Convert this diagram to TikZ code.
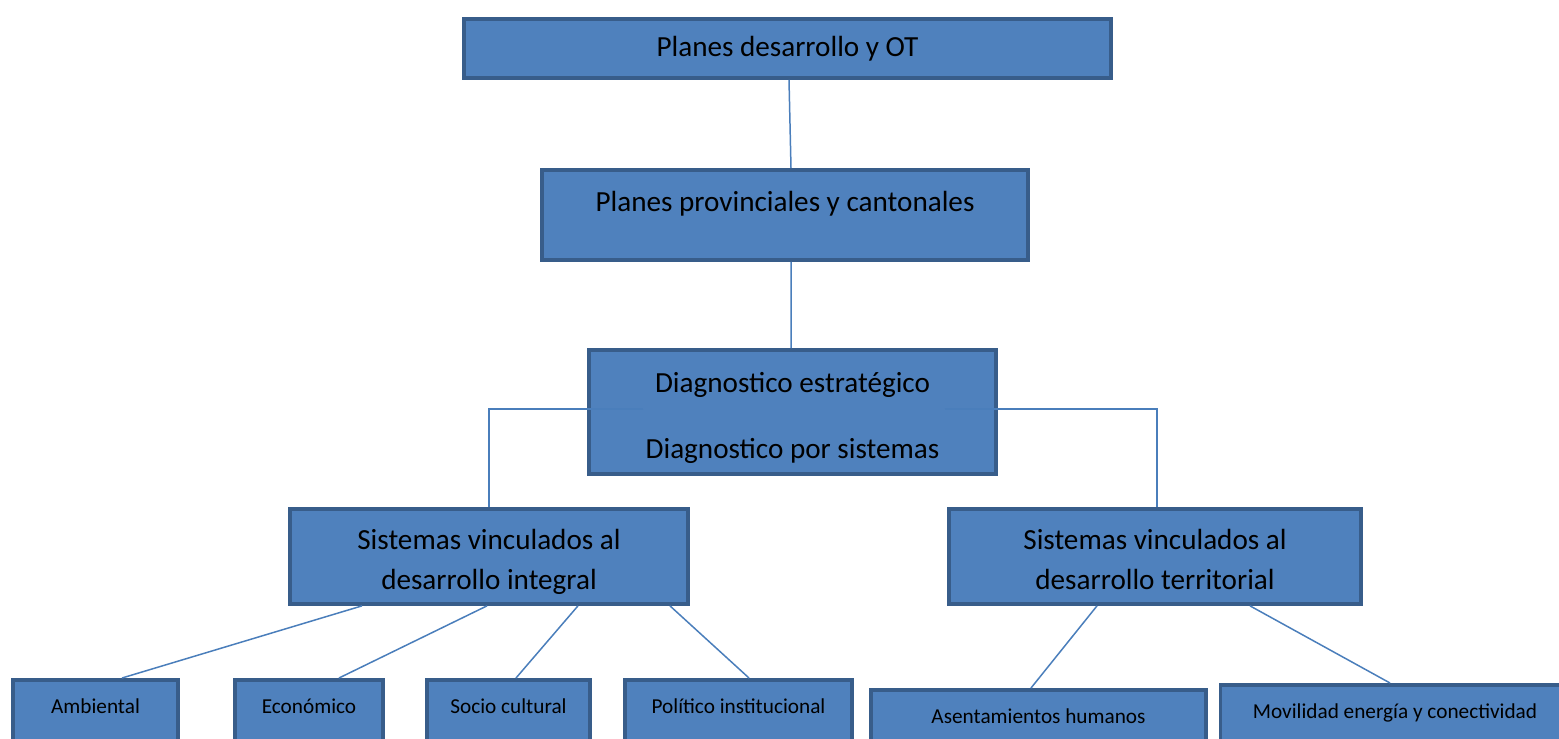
\documentclass[tikz,border=0pt]{standalone}
\usepackage{fontspec}
\setmainfont{Carlito}
\usetikzlibrary{positioning}
\usetikzlibrary{calc}

\definecolor{boxfill}{RGB}{79,129,189}
\definecolor{boxline}{RGB}{56,93,138}
\definecolor{linkblue}{RGB}{74,126,187}

\begin{document}
\begin{tikzpicture} [
            x=0.02cm, y=-0.02cm,
            box/.style={draw=boxline,fill=boxfill,line width=2.2pt,inner sep=0pt,anchor=north,align=center},
            big/.style={font=\fontsize{16.6}{20}\selectfont},
            small/.style={font=\fontsize{12.1}{15}\selectfont,text height=0.67cm,text depth=1.11cm},
            link/.style={draw=linkblue,line width=0.85pt},
         every node/.append style={align=center}]
\clip (0,0) rectangle (1559,738);
\useasboundingbox (0,0) rectangle (1559,738);
%\tikzstyle{every node}=[draw,rectangle]
\node (top) at (787.5,17) [box,big,minimum width=12.94cm,minimum height=1.18cm] {Planes desarrollo y OT}
node (prov) at (785,168) [box,big,minimum width=9.72cm,text height=0.83cm,text depth=0.97cm] {Planes provinciales y cantonales}
node (diag) at (792.5,348) [box,font=\fontsize{16.6}{38}\selectfont,minimum width=8.14cm,text height=2.18cm,text depth=0.3cm] {Diagnostico estratégico\\Diagnostico por sistemas}
node (integ) at (489,507) [box,font=\fontsize{16.6}{22.8}\selectfont,minimum width=7.96cm,text height=1.62cm,text depth=0.28cm] {Sistemas vinculados al\\desarrollo integral}
node (terr) at (1155,507) [box,font=\fontsize{16.6}{22.8}\selectfont,minimum width=8.24cm,text height=1.62cm,text depth=0.28cm] {Sistemas vinculados al\\desarrollo territorial}
node (amb) at (95.5,678) [box,small,minimum width=3.3cm] {Ambiental}
node (eco) at (309,678) [box,small,minimum width=2.96cm] {Económico}
node (soc) at (508.5,678) [box,small,minimum width=3.26cm] {Socio cultural}
node (pol) at (738.5,678) [box,small,minimum width=4.54cm] {Político institucional}
node (asen) at (1038.5,688) [box,small,minimum width=6.7cm] {Asentamientos humanos}
node (mov) at (1395,683) [box,small,minimum width=6.98cm] {Movilidad energía y conectividad}
 ;

\draw [link] ([xshift=0.03cm]top.south) -- ([xshift=0.12cm]prov.north);
\draw [link] ([xshift=0.12cm]prov.south) -- ([xshift=-0.03cm]diag.north);
\draw [link] ([xshift=1.12cm,yshift=0.06cm]diag.west) -| (integ.north);
\draw [link] ([xshift=-1.06cm,yshift=0.06cm]diag.east) -| ([xshift=0.04cm]terr.north);
% integral
\draw [link] ([xshift=-2.54cm]integ.south) -- ([xshift=0.53cm]amb.north);
\draw [link] ([xshift=-0.04cm]integ.south) -- ([xshift=0.6cm]eco.north);
\draw [link] ([xshift=1.78cm]integ.south) -- ([xshift=0.15cm]soc.north);
\draw [link] ([xshift=3.62cm]integ.south) -- ([xshift=0.21cm]pol.north);
% territorial
\draw [link] ([xshift=-1.16cm]terr.south) -- ([xshift=-0.15cm]asen.north);
\draw [link] ([xshift=1.9cm]terr.south) -- ([xshift=-0.1cm]mov.north);
\end{tikzpicture}
\end{document}
